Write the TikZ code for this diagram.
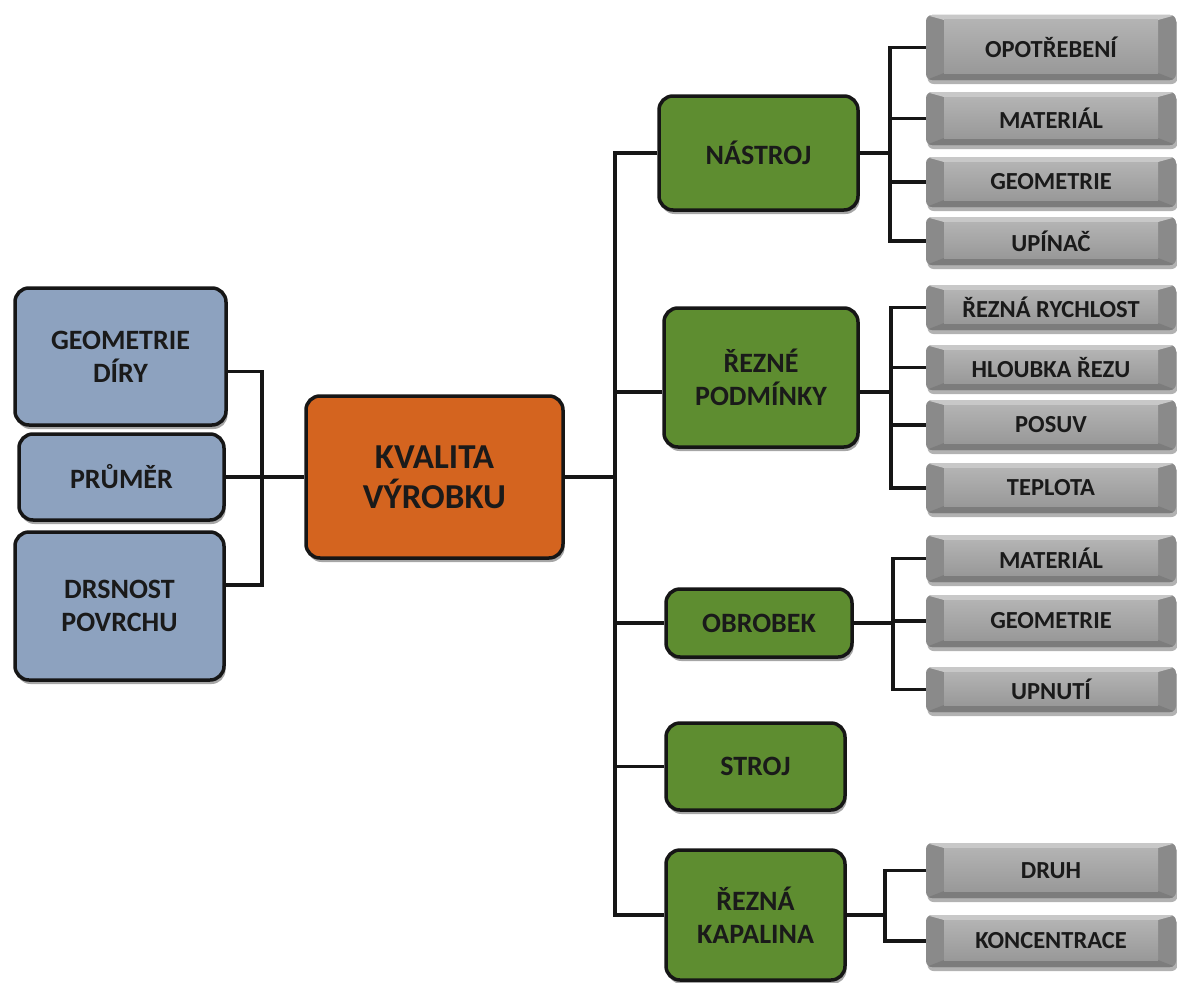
\documentclass[tikz,border=0pt]{standalone}
\usepackage{fontspec}
\setmainfont{Carlito}
\usetikzlibrary{shadows,calc}
\definecolor{bluef}{HTML}{8DA2BF}
\definecolor{greenf}{HTML}{5E8D30}
\definecolor{orangef}{HTML}{D4641F}
\definecolor{boxline}{HTML}{161616}
\definecolor{txt}{HTML}{1A1A1A}
\definecolor{graybase}{HTML}{8A8A8A}
\definecolor{grayface}{HTML}{A6A6A6}
\definecolor{graytop}{HTML}{C8C8C8}
\definecolor{graybot}{HTML}{7C7C7C}
\tikzset{
  mainbox/.style={draw=boxline, line width=3.5pt, rounded corners=14pt, inner sep=0pt,
    align=center, text=txt, font=\bfseries\fontsize{28}{33}\selectfont,
    drop shadow={shadow xshift=1.5pt, shadow yshift=-4pt, opacity=0.35, fill=black}},
  bluebox/.style={mainbox, fill=bluef},
  greenbox/.style={mainbox, fill=greenf},
  centerbox/.style={mainbox, fill=orangef, font=\bfseries\fontsize{35}{40}\selectfont},
  graybox/.style={rounded corners=6pt, fill=graybase, inner sep=0pt, text=txt,
    minimum width=250pt, font=\bfseries\fontsize{24.5}{28}\selectfont,
    drop shadow={shadow xshift=1.5pt, shadow yshift=-4pt, opacity=0.3, fill=black},
    path picture={
      \fill[graytop, sharp corners] (path picture bounding box.north west) --
        (path picture bounding box.north east) --
        ([xshift=-18pt,yshift=-5pt]path picture bounding box.north east) --
        ([xshift=18pt,yshift=-5pt]path picture bounding box.north west) -- cycle;
      \fill[graybot, sharp corners] (path picture bounding box.south west) --
        (path picture bounding box.south east) --
        ([xshift=-18pt,yshift=7pt]path picture bounding box.south east) --
        ([xshift=18pt,yshift=7pt]path picture bounding box.south west) -- cycle;
      \shade[top color=grayface!85!white, bottom color=grayface!92!black, sharp corners]
        ([xshift=18pt,yshift=-5pt]path picture bounding box.north west) rectangle
        ([xshift=-18pt,yshift=7pt]path picture bounding box.south east);
    }},
  conn/.style={line width=3.2pt, draw=boxline}
}
\begin{document}
\begin{tikzpicture}[x=1pt,y=-1pt]
\useasboundingbox[fill=white] (0,0) rectangle (1177,982);

% left boxes
\node[bluebox, minimum width=211pt, minimum height=137pt] (geo) at (120.5,356.5) {GEOMETRIE\\DÍRY};
\node[bluebox, minimum width=205pt, minimum height=86pt] (prumer) at (121.5,477) {PRŮMĚR};
\node[bluebox, minimum width=209pt, minimum height=148pt] (drsnost) at (119.5,606) {DRSNOST\\POVRCHU};

% center
\node[centerbox, minimum width=257pt, minimum height=162pt] (kvalita) at (434.5,477) {KVALITA\\VÝROBKU};

% green boxes
\node[greenbox, minimum width=199pt, minimum height=114pt] (nastroj) at (758.5,153) {NÁSTROJ};
\node[greenbox, minimum width=194pt, minimum height=139pt] (rezne) at (761,377.5) {ŘEZNÉ\\PODMÍNKY};
\node[greenbox, minimum width=186pt, minimum height=68pt] (obrobek) at (759,623) {OBROBEK};
\node[greenbox, minimum width=179pt, minimum height=87pt] (stroj) at (755.5,766.5) {STROJ};
\node[greenbox, minimum width=179pt, minimum height=130pt] (kapalina) at (755.5,915) {ŘEZNÁ\\KAPALINA};

% gray boxes
\node[graybox, minimum height=65pt] (g1) at (1051,47.5) {OPOTŘEBENÍ};
\node[graybox, minimum height=53pt] (g2) at (1051,118.5) {MATERIÁL};
\node[graybox, minimum height=50pt] (g3) at (1051,182) {GEOMETRIE};
\node[graybox, minimum height=48pt] (g4) at (1051,241) {UPÍNAČ};
\node[graybox, minimum height=45pt] (g5) at (1051,307.5) {ŘEZNÁ RYCHLOST};
\node[graybox, minimum height=45pt] (g6) at (1051,367.5) {HLOUBKA ŘEZU};
\node[graybox, minimum height=50pt] (g7) at (1051,425) {POSUV};
\node[graybox, minimum height=50pt] (g8) at (1051,488) {TEPLOTA};
\node[graybox, minimum height=47pt] (g9) at (1051,558.5) {MATERIÁL};
\node[graybox, minimum height=52pt] (g10) at (1051,621) {GEOMETRIE};
\node[graybox, minimum height=45pt] (g11) at (1051,689.5) {UPNUTÍ};
\node[graybox, minimum height=55pt] (g12) at (1051,870.5) {DRUH};
\node[graybox, minimum height=52pt] (g13) at (1051,941) {KONCENTRACE};

% bus coordinates
\coordinate (lb) at (262,477);
\coordinate (tr) at (615,477);
\coordinate (b1) at (890,153);
\coordinate (b2) at (891,392);
\coordinate (b3) at (893,623);
\coordinate (b4) at (885,915);

% left connectors
\draw[conn] ($(geo.east)+(0,15)$) -| (lb);
\draw[conn] ($(drsnost.east)+(0,-21)$) -| (lb);
\draw[conn] (prumer.east) -- (kvalita.west);

% trunk
\draw[conn] (kvalita.east) -- (tr);
\draw[conn] (nastroj.west) -| (tr);
\draw[conn] ($(rezne.west)+(0,14.5)$) -| (tr);
\draw[conn] (obrobek.west) -| (tr);
\draw[conn] (stroj.west) -| (tr);
\draw[conn] (kapalina.west) -| (tr);

% right buses
\draw[conn] (nastroj.east) -- (b1);
\foreach \g in {g1,g2,g3,g4} \draw[conn] (\g.west) -| (b1);
\draw[conn] ($(rezne.east)+(0,14.5)$) -- (b2);
\foreach \g in {g5,g6,g7,g8} \draw[conn] (\g.west) -| (b2);
\draw[conn] (obrobek.east) -- (b3);
\foreach \g in {g9,g10,g11} \draw[conn] (\g.west) -| (b3);
\draw[conn] (kapalina.east) -- (b4);
\foreach \g in {g12,g13} \draw[conn] (\g.west) -| (b4);
\end{tikzpicture}
\end{document}
